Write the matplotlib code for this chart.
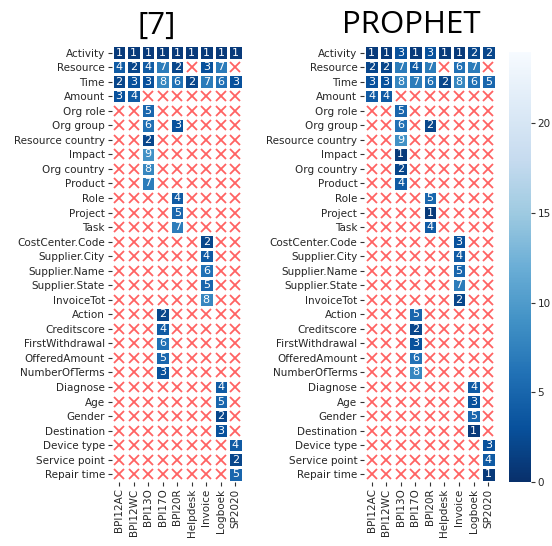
import numpy as np
import matplotlib
matplotlib.use("Agg")
import matplotlib.pyplot as plt

rows = ["Activity", "Resource", "Time", "Amount", "Org role", "Org group",
        "Resource country", "Impact", "Org country", "Product", "Role", "Project",
        "Task", "CostCenter.Code", "Supplier.City", "Supplier.Name",
        "Supplier.State", "InvoiceTot", "Action", "Creditscore",
        "FirstWithdrawal", "OfferedAmount", "NumberOfTerms", "Diagnose", "Age",
        "Gender", "Destination", "Device type", "Service point", "Repair time"]
cols = ["BPI12AC", "BPI12WC", "BPI13O", "BPI17O", "BPI20R", "Helpdesk",
        "Invoice", "Logboek", "SP2020"]
N = None

ref7 = [
    [1, 1, 1, 1, 1, 1, 1, 1, 1],
    [4, 2, 4, 7, 2, N, 3, 7, N],
    [2, 3, 3, 8, 6, 2, 7, 6, 3],
    [3, 4, N, N, N, N, N, N, N],
    [N, N, 5, N, N, N, N, N, N],
    [N, N, 6, N, 3, N, N, N, N],
    [N, N, 2, N, N, N, N, N, N],
    [N, N, 9, N, N, N, N, N, N],
    [N, N, 8, N, N, N, N, N, N],
    [N, N, 7, N, N, N, N, N, N],
    [N, N, N, N, 4, N, N, N, N],
    [N, N, N, N, 5, N, N, N, N],
    [N, N, N, N, 7, N, N, N, N],
    [N, N, N, N, N, N, 2, N, N],
    [N, N, N, N, N, N, 4, N, N],
    [N, N, N, N, N, N, 6, N, N],
    [N, N, N, N, N, N, 5, N, N],
    [N, N, N, N, N, N, 8, N, N],
    [N, N, N, 2, N, N, N, N, N],
    [N, N, N, 4, N, N, N, N, N],
    [N, N, N, 6, N, N, N, N, N],
    [N, N, N, 5, N, N, N, N, N],
    [N, N, N, 3, N, N, N, N, N],
    [N, N, N, N, N, N, N, 4, N],
    [N, N, N, N, N, N, N, 5, N],
    [N, N, N, N, N, N, N, 2, N],
    [N, N, N, N, N, N, N, 3, N],
    [N, N, N, N, N, N, N, N, 4],
    [N, N, N, N, N, N, N, N, 2],
    [N, N, N, N, N, N, N, N, 5],
]

prophet = [
    [1, 1, 3, 1, 3, 1, 1, 2, 2],
    [2, 2, 7, 4, 7, N, 6, 7, N],
    [3, 3, 8, 7, 6, 2, 8, 6, 5],
    [4, 4, N, N, N, N, N, N, N],
    [N, N, 5, N, N, N, N, N, N],
    [N, N, 6, N, 2, N, N, N, N],
    [N, N, 9, N, N, N, N, N, N],
    [N, N, 1, N, N, N, N, N, N],
    [N, N, 2, N, N, N, N, N, N],
    [N, N, 4, N, N, N, N, N, N],
    [N, N, N, N, 5, N, N, N, N],
    [N, N, N, N, 1, N, N, N, N],
    [N, N, N, N, 4, N, N, N, N],
    [N, N, N, N, N, N, 3, N, N],
    [N, N, N, N, N, N, 4, N, N],
    [N, N, N, N, N, N, 5, N, N],
    [N, N, N, N, N, N, 7, N, N],
    [N, N, N, N, N, N, 2, N, N],
    [N, N, N, 5, N, N, N, N, N],
    [N, N, N, 2, N, N, N, N, N],
    [N, N, N, 3, N, N, N, N, N],
    [N, N, N, 6, N, N, N, N, N],
    [N, N, N, 8, N, N, N, N, N],
    [N, N, N, N, N, N, N, 4, N],
    [N, N, N, N, N, N, N, 3, N],
    [N, N, N, N, N, N, N, 5, N],
    [N, N, N, N, N, N, N, 1, N],
    [N, N, N, N, N, N, N, N, 3],
    [N, N, N, N, N, N, N, N, 4],
    [N, N, N, N, N, N, N, N, 1],
]

titles = ["[7]", "PROPHET"]
vmin, vmax = 0, 24

W, H = 552, 546
fig = plt.figure(figsize=(W / 100, H / 100), dpi=100)

def fr(x0, y0, x1, y1):
    return [x0 / W, 1 - y1 / H, (x1 - x0) / W, (y1 - y0) / H]

axes = [fig.add_axes(fr(111.7, 45.3, 242.7, 481.5)),
        fig.add_axes(fr(364.3, 45.3, 495.5, 481.5))]
cax = fig.add_axes(fr(509.3, 51.7, 530.7, 481.7))
title_x = [0.343, 0.355]

cmap = plt.get_cmap("Blues_r")
mesh = None
for ax, data, title, tx in zip(axes, [ref7, prophet], titles, title_x):
    arr = np.array([[np.nan if v is None else v for v in r] for r in data], dtype=float)
    m = np.ma.masked_invalid(arr)
    mesh = ax.pcolormesh(np.arange(len(cols) + 1), np.arange(len(rows) + 1), m,
                         cmap=cmap, vmin=vmin, vmax=vmax,
                         edgecolors="white", linewidth=1.0)
    ax.set_xlim(0, len(cols))
    ax.set_ylim(len(rows), 0)
    for i in range(len(rows)):
        for j in range(len(cols)):
            v = arr[i, j]
            if np.isnan(v):
                ax.plot(j + 0.5, i + 0.5, marker="x", color="#ff3b3b", alpha=0.8,
                        markersize=7.6, markeredgewidth=1.3, clip_on=False)
            else:
                ax.text(j + 0.5, i + 0.5, f"{int(v)}", ha="center", va="center",
                        color="white", fontsize=8)
    ax.set_xticks(np.arange(len(cols)) + 0.5)
    ax.set_xticklabels(cols, rotation=90, fontsize=7.5)
    ax.set_yticks(np.arange(len(rows)) + 0.5)
    ax.set_yticklabels(rows, fontsize=7.5)
    ax.tick_params(length=3, width=0.8, pad=2, color="#333333", labelcolor="#262626")
    for s in ax.spines.values():
        s.set_visible(False)
    ax.set_title(title, fontsize=22.5, family="Open Sans", pad=8.5, x=tx)

cb = fig.colorbar(mesh, cax=cax)
cb.outline.set_visible(False)
cb.set_ticks([0, 5, 10, 15, 20])
cax.tick_params(labelsize=7.5, length=3, pad=2, color="#333333", labelcolor="#262626")

fig.savefig("out.png", dpi=100)
